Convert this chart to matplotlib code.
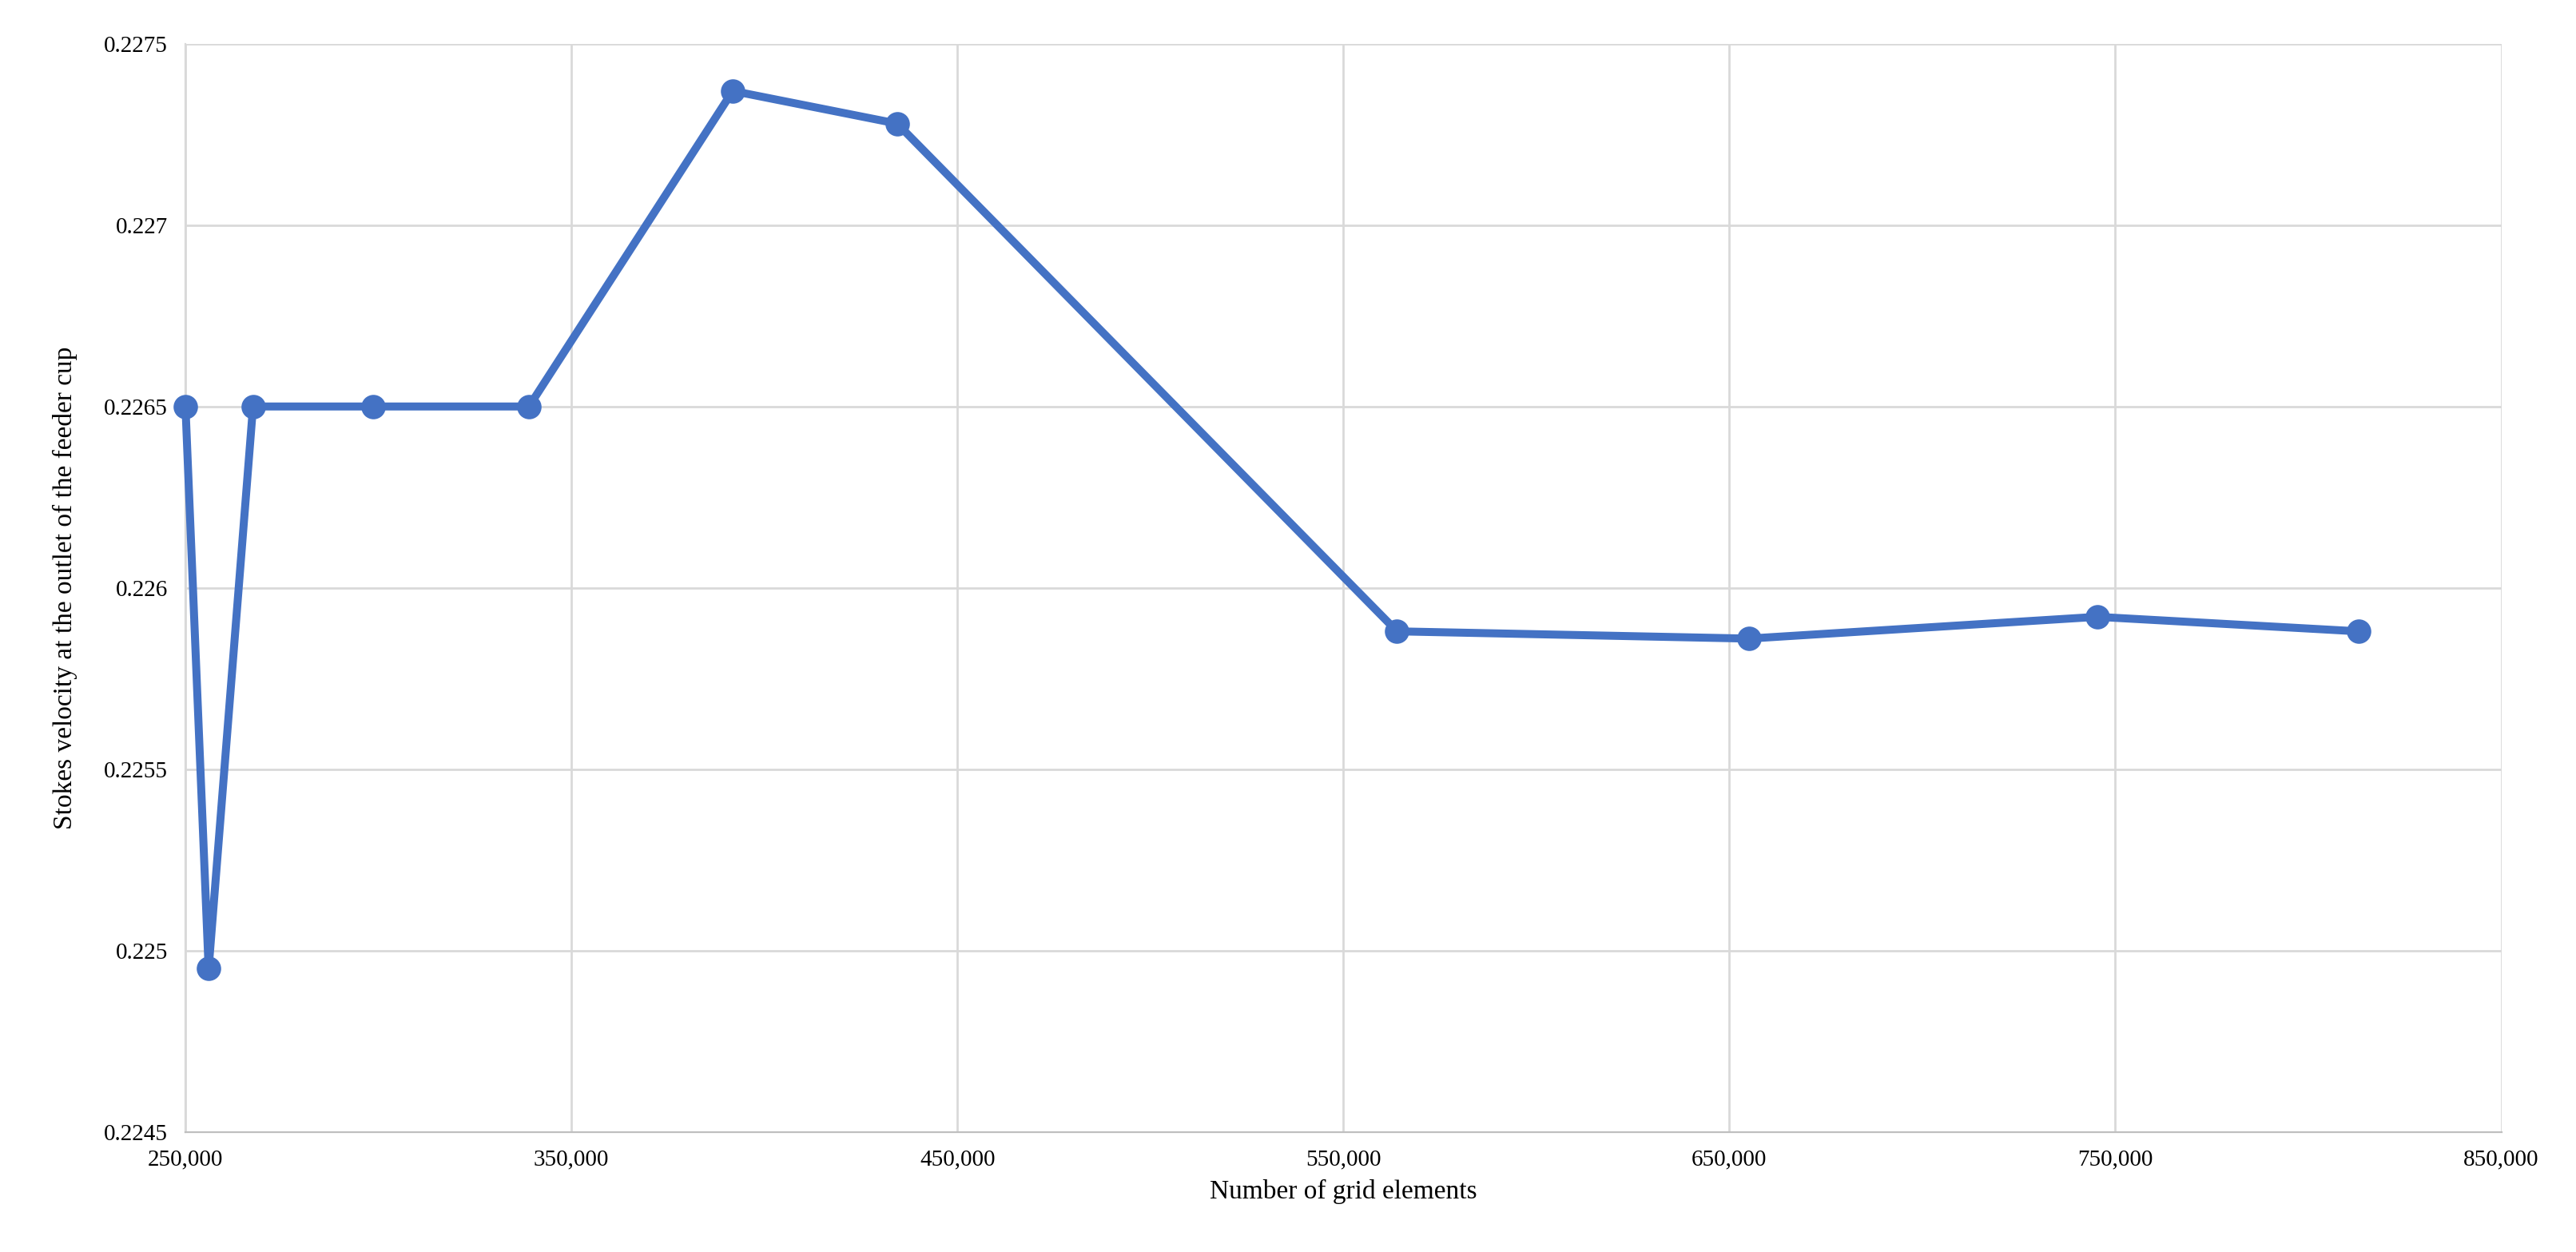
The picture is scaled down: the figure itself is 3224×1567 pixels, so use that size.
import matplotlib
matplotlib.use("Agg")
import matplotlib.pyplot as plt
from matplotlib.ticker import FuncFormatter, MultipleLocator, FixedLocator

grid_elements = [250000, 256000, 267500, 298600, 339000, 391800, 434400, 563900, 655000, 745300, 813000]
stokes_velocity = [0.2265, 0.22495, 0.2265, 0.2265, 0.2265, 0.22737, 0.22728, 0.22588, 0.22586, 0.22592, 0.22588]
x_ticks = [250000, 350000, 450000, 550000, 650000, 750000, 850000]

plt.rcParams['font.family'] = ['Liberation Serif', 'DejaVu Serif']
fig = plt.figure(figsize=(16.12, 7.835), dpi=200)
ax = fig.add_axes([0.072, 0.096, 0.899, 0.869])
ax.plot(grid_elements, stokes_velocity, color='#4472C4', lw=3.6, marker='o', ms=10, zorder=3, clip_on=False)
ax.set_xlim(250000, 850000)
ax.set_ylim(0.2245, 0.2275)
ax.xaxis.set_major_locator(FixedLocator(x_ticks))
ax.yaxis.set_major_locator(MultipleLocator(0.0005))
ax.xaxis.set_major_formatter(FuncFormatter(lambda v, p: f"{int(round(v)):,}"))
ax.yaxis.set_major_formatter(FuncFormatter(lambda v, p: f"{v:.4f}".rstrip('0')))
ax.grid(True, color='#d9d9d9', lw=1)
for s in ['top', 'right']:
    ax.spines[s].set_visible(False)
ax.spines['left'].set_color('#d9d9d9')
ax.spines['bottom'].set_color('#bfbfbf')
ax.tick_params(length=0, labelsize=10.5, pad=8)
ax.set_xlabel('Number of grid elements', fontsize=12, labelpad=4)
ax.set_ylabel('Stokes velocity at the outlet of the feeder cup', fontsize=12, labelpad=12)
fig.savefig('out.png')
